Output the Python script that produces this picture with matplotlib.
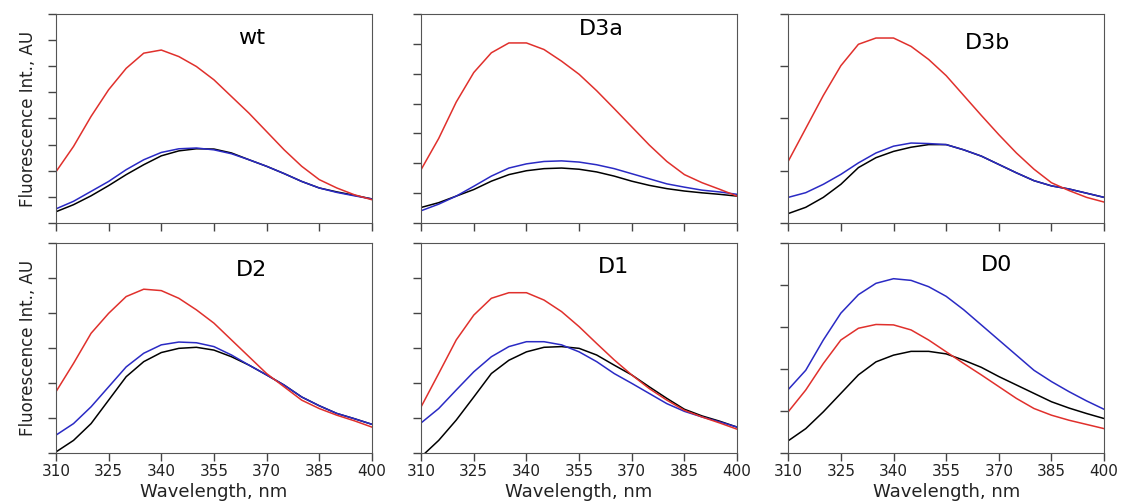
import matplotlib.pyplot as plt
import numpy as np

plt.rcParams.update({'font.family': ['DejaVu Sans']})

wl = np.arange(310, 401, 5)

names = ['wt', 'D3a', 'D3b', 'D2', 'D1', 'D0']
ytop = [8, 7, 4, 6, 6, 5]

red = {}
blue = {}
black = {}

red['wt'] = [1.96, 2.93, 4.08, 5.10, 5.92, 6.50, 6.62, 6.37, 5.99, 5.48, 4.84, 4.20, 3.50, 2.80, 2.17, 1.66, 1.34, 1.08, 0.89]
blue['wt'] = [0.54, 0.83, 1.21, 1.59, 2.04, 2.42, 2.70, 2.84, 2.87, 2.80, 2.65, 2.42, 2.17, 1.89, 1.59, 1.34, 1.17, 1.04, 0.92]
black['wt'] = [0.43, 0.70, 1.04, 1.43, 1.85, 2.23, 2.57, 2.76, 2.84, 2.83, 2.68, 2.42, 2.17, 1.89, 1.59, 1.34, 1.19, 1.06, 0.92]

red['D3a'] = [1.79, 2.83, 4.05, 5.04, 5.70, 6.03, 6.03, 5.81, 5.42, 4.98, 4.43, 3.83, 3.22, 2.61, 2.06, 1.62, 1.35, 1.13, 0.90]
blue['D3a'] = [0.41, 0.63, 0.90, 1.23, 1.57, 1.84, 1.98, 2.06, 2.08, 2.04, 1.95, 1.82, 1.65, 1.48, 1.31, 1.20, 1.10, 1.04, 0.96]
black['D3a'] = [0.52, 0.68, 0.90, 1.12, 1.40, 1.62, 1.75, 1.82, 1.84, 1.80, 1.71, 1.57, 1.40, 1.26, 1.15, 1.07, 1.01, 0.96, 0.90]

red['D3b'] = [1.18, 1.81, 2.44, 3.01, 3.42, 3.54, 3.54, 3.38, 3.13, 2.82, 2.44, 2.06, 1.69, 1.34, 1.03, 0.77, 0.62, 0.49, 0.40]
blue['D3b'] = [0.49, 0.58, 0.74, 0.93, 1.15, 1.34, 1.47, 1.53, 1.52, 1.50, 1.40, 1.28, 1.12, 0.96, 0.81, 0.71, 0.65, 0.57, 0.49]
black['D3b'] = [0.18, 0.30, 0.49, 0.74, 1.06, 1.25, 1.37, 1.45, 1.50, 1.50, 1.40, 1.28, 1.12, 0.96, 0.81, 0.71, 0.65, 0.57, 0.49]

red['D2'] = [1.75, 2.56, 3.42, 3.99, 4.47, 4.68, 4.64, 4.42, 4.09, 3.71, 3.23, 2.75, 2.27, 1.89, 1.51, 1.27, 1.08, 0.92, 0.74]
blue['D2'] = [0.51, 0.84, 1.32, 1.89, 2.46, 2.85, 3.09, 3.17, 3.15, 3.04, 2.80, 2.51, 2.23, 1.94, 1.60, 1.35, 1.13, 0.98, 0.82]
black['D2'] = [0.03, 0.36, 0.84, 1.51, 2.18, 2.61, 2.87, 2.99, 3.02, 2.94, 2.75, 2.51, 2.23, 1.94, 1.60, 1.35, 1.13, 0.98, 0.82]

red['D1'] = [1.32, 2.27, 3.23, 3.94, 4.42, 4.58, 4.58, 4.37, 4.04, 3.61, 3.13, 2.66, 2.23, 1.84, 1.51, 1.22, 1.03, 0.86, 0.68]
blue['D1'] = [0.86, 1.27, 1.80, 2.32, 2.75, 3.04, 3.18, 3.18, 3.09, 2.89, 2.61, 2.27, 1.99, 1.70, 1.41, 1.19, 1.03, 0.89, 0.74]
black['D1'] = [-0.11, 0.36, 0.94, 1.60, 2.27, 2.65, 2.89, 3.02, 3.04, 2.99, 2.80, 2.51, 2.23, 1.89, 1.56, 1.25, 1.06, 0.91, 0.74]

red['D0'] = [0.98, 1.50, 2.13, 2.69, 2.97, 3.06, 3.05, 2.93, 2.69, 2.41, 2.13, 1.86, 1.58, 1.30, 1.06, 0.90, 0.78, 0.68, 0.58]
blue['D0'] = [1.51, 1.97, 2.69, 3.33, 3.77, 4.04, 4.15, 4.11, 3.96, 3.73, 3.41, 3.05, 2.69, 2.33, 1.97, 1.70, 1.46, 1.24, 1.04]
black['D0'] = [0.29, 0.58, 0.98, 1.42, 1.86, 2.17, 2.33, 2.42, 2.42, 2.36, 2.21, 2.04, 1.82, 1.62, 1.42, 1.22, 1.07, 0.94, 0.82]

# where the panel name sits (axes fraction)
label_pos = {'wt': (0.62, 0.885), 'D3a': (0.57, 0.93), 'D3b': (0.63, 0.86),
             'D2': (0.62, 0.87), 'D1': (0.61, 0.885), 'D0': (0.66, 0.895)}

fig = plt.figure(figsize=(11.26, 5.03), dpi=100)

lefts = [0.0497, 0.374, 0.700]
bottoms = [0.5567, 0.0994]
w = 0.2806
heights = [0.4155, 0.4175]

for i, name in enumerate(names):
    row = i // 3
    col = i % 3
    ax = fig.add_axes([lefts[col], bottoms[row], w, heights[row]])
    ax.plot(wl, black[name], color='black', lw=1.1)
    ax.plot(wl, blue[name], color='#2a2ac4', lw=1.1)
    ax.plot(wl, red[name], color='#e0302c', lw=1.1)
    ax.set_xlim(310, 400)
    ax.set_ylim(0, ytop[i])
    ax.set_xticks(np.arange(310, 401, 15))
    ax.set_yticks(np.arange(0, ytop[i] + 1))
    ax.set_yticklabels([])
    ax.tick_params(direction='out', length=6, width=1, colors='#444444',
                   labelcolor='#222222', labelsize=11, pad=2)
    for s in ax.spines.values():
        s.set_color('#555555')
    if row == 0:
        ax.set_xticklabels([])
    else:
        ax.set_xlabel('Wavelength, nm', fontsize=13, labelpad=3, color='#222222')
    if col == 0:
        ax.set_ylabel('Fluorescence Int., AU', fontsize=12, labelpad=6, color='#222222')
    tx, ty = label_pos[name]
    ax.text(tx, ty, name, transform=ax.transAxes, fontsize=16, ha='center', va='center')

fig.savefig('out.png', dpi=100)
